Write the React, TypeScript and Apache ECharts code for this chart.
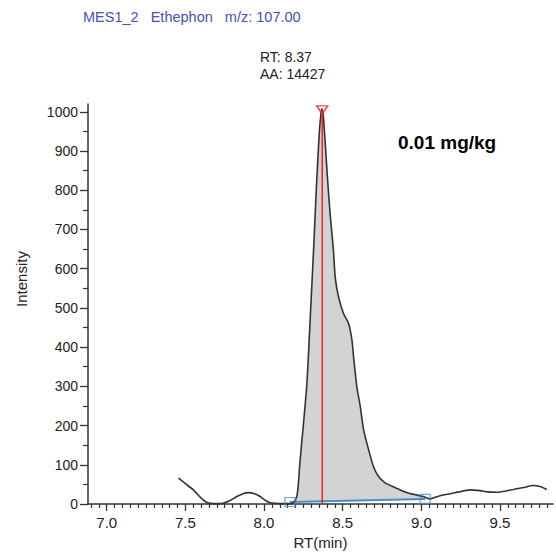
import React, { useEffect, useRef } from 'react';
import * as echarts from 'echarts';

// Chromatogram trace (RT in min, intensity)
const rtMin = [
  7.456, 7.5, 7.551, 7.6, 7.637, 7.68, 7.74, 7.79, 7.827, 7.87, 7.9, 7.94, 7.975, 8.01, 8.04, 8.1, 8.16,
  8.187, 8.208, 8.217, 8.228, 8.249, 8.273, 8.294, 8.315, 8.332, 8.351, 8.362, 8.37, 8.38, 8.402, 8.42,
  8.441, 8.452, 8.473, 8.505, 8.537, 8.559, 8.569, 8.59, 8.612, 8.633, 8.665, 8.696, 8.728, 8.77, 8.822,
  8.866, 8.928, 9.013, 9.055, 9.088, 9.138, 9.182, 9.24, 9.309, 9.373, 9.42, 9.479, 9.583, 9.65, 9.71,
  9.76, 9.797,
];
const intensity = [
  66, 52, 36, 15, 4, 1, 2, 10, 19, 27, 29, 26, 19, 9, 3, 1, 1,
  3, 19, 45, 105, 197, 309, 477, 648, 800, 945, 995, 1008, 975, 839, 740,
  648, 580, 529, 486, 461, 418, 376, 299, 248, 189, 138, 95, 70, 54, 44,
  36, 27, 19, 13, 17, 23, 26, 31, 36, 34, 31, 30, 37, 42, 47,
  44, 37,
];

// Integration baseline (start / end markers)
const baselineRt = [8.165, 9.025];
const baselineIntensity = [5, 13];

// Apex
const apexRt = 8.37;
const apexIntensity = 1005;

// Axis ticks
const yTickLabels = [0, 100, 200, 300, 400, 500, 600, 700, 800, 900, 1000];
const yMinorTicks = [50, 150, 250, 350, 450, 550, 650, 750, 850, 950];
const xTickLabels = [7.0, 7.5, 8.0, 8.5, 9.0, 9.5];

const titleText = 'MES1_2   Ethephon   m/z: 107.00';
const rtText = 'RT: 8.37';
const aaText = 'AA: 14427';
const concText = '0.01 mg/kg';

const X_MIN = 6.881;
const X_MAX = 9.837;
const Y_MIN = 0;
const Y_MAX = 1020;

const FONT = '"Liberation Sans", Arial, Helvetica, sans-serif';
const AXIS_COLOR = '#333';

export default function App() {
  const ref = useRef<HTMLDivElement>(null);

  useEffect(() => {
    if (!ref.current) return;
    const chart = echarts.init(ref.current, undefined, { renderer: 'svg' });

    const curve = rtMin.map((t, i) => [t, intensity[i]]);
    const peakPts: number[][] = [[baselineRt[0], baselineIntensity[0]]];
    rtMin.forEach((t, i) => {
      if (t > baselineRt[0] && t < baselineRt[1]) peakPts.push([t, intensity[i]]);
    });
    peakPts.push([baselineRt[1], baselineIntensity[1]]);

    const xMinor: number[] = [];
    for (let k = 138; k <= 196; k++) {
      const v = Math.round(k * 5) / 100;
      if (v > X_MIN && v < X_MAX && Math.abs((v * 2) - Math.round(v * 2)) > 1e-6) xMinor.push(v);
    }

    chart.setOption({
      animation: false,
      backgroundColor: '#fff',
      textStyle: { fontFamily: FONT },
      grid: { left: 88, right: 3, top: 104, bottom: 49, containLabel: false, outerBoundsMode: 'none' },
      xAxis: [
        {
          type: 'value',
          min: X_MIN,
          max: X_MAX,
          position: 'bottom',
          name: 'RT(min)',
          nameLocation: 'middle',
          nameGap: 28,
          nameTextStyle: { fontSize: 15, color: '#222', fontFamily: FONT },
          axisLine: { show: true, onZero: false, lineStyle: { color: AXIS_COLOR, width: 1.5 } },
          axisTick: { show: true, customValues: xTickLabels, length: 7, lineStyle: { color: AXIS_COLOR, width: 1.3 } },
          axisLabel: {
            customValues: xTickLabels,
            formatter: (v: number) => v.toFixed(1),
            fontSize: 15,
            color: '#222',
            margin: 11,
            fontFamily: FONT,
          },
          splitLine: { show: false },
        },
        {
          type: 'value',
          min: X_MIN,
          max: X_MAX,
          position: 'bottom',
          offset: 0,
          axisLine: { show: false, onZero: false },
          axisTick: { show: true, customValues: xMinor, length: 4, lineStyle: { color: AXIS_COLOR, width: 1.2 } },
          axisLabel: { show: false },
          splitLine: { show: false },
        },
      ],
      yAxis: [
        {
          type: 'value',
          min: Y_MIN,
          max: Y_MAX,
          position: 'left',
          axisLine: { show: true, onZero: false, lineStyle: { color: AXIS_COLOR, width: 1.5 } },
          axisTick: { show: true, customValues: yTickLabels, length: 8, lineStyle: { color: AXIS_COLOR, width: 1.3 } },
          axisLabel: {
            customValues: yTickLabels,
            formatter: (v: number) => String(v),
            fontSize: 14,
            color: '#222',
            margin: 10,
            fontFamily: FONT,
          },
          splitLine: { show: false },
        },
        {
          type: 'value',
          min: Y_MIN,
          max: Y_MAX,
          position: 'left',
          offset: 0,
          axisLine: { show: false, onZero: false },
          axisTick: { show: true, customValues: yMinorTicks, length: 5, lineStyle: { color: AXIS_COLOR, width: 1.2 } },
          axisLabel: { show: false },
          splitLine: { show: false },
        },
      ],
      graphic: [
        { type: 'text', x: 83, y: 17, style: { text: titleText, fill: '#4653b3', font: `14.5px ${FONT}`, verticalAlign: 'middle' } },
        { type: 'text', x: 260, y: 57, style: { text: rtText, fill: '#222', font: `14px ${FONT}`, verticalAlign: 'middle' } },
        { type: 'text', x: 260, y: 74, style: { text: aaText, fill: '#222', font: `14px ${FONT}`, verticalAlign: 'middle' } },
        { type: 'text', x: 398, y: 142, style: { text: concText, fill: '#000', font: `bold 19px ${FONT}`, verticalAlign: 'middle' } },
        {
          type: 'text', x: 21, y: 279, rotation: Math.PI / 2,
          style: { text: 'Intensity', fill: '#222', font: `15px ${FONT}`, align: 'center', verticalAlign: 'middle' },
        },
      ],
      series: [
        {
          type: 'custom',
          xAxisIndex: 0,
          yAxisIndex: 0,
          z: 1,
          silent: true,
          data: [[apexRt, apexIntensity]],
          renderItem: (_params: any, api: any) => ({
            type: 'polygon',
            shape: { points: peakPts.map((p) => api.coord(p)) },
            style: { fill: '#d3d3d3', stroke: 'none' },
          }),
        },
        {
          type: 'line',
          xAxisIndex: 0,
          yAxisIndex: 0,
          z: 2,
          data: baselineRt.map((t, i) => [t, baselineIntensity[i]]),
          symbol: 'none',
          lineStyle: { color: '#4a8bcb', width: 2 },
        },
        {
          type: 'line',
          xAxisIndex: 0,
          yAxisIndex: 0,
          z: 3,
          data: curve,
          smooth: 0.2,
          symbol: 'none',
          clip: false,
          lineStyle: { color: '#333', width: 1.6 },
        },
        {
          type: 'line',
          xAxisIndex: 0,
          yAxisIndex: 0,
          z: 4,
          data: [[apexRt, 0], [apexRt, apexIntensity]],
          symbol: 'none',
          lineStyle: { color: '#f02020', width: 1.5 },
        },
        {
          type: 'scatter',
          xAxisIndex: 0,
          yAxisIndex: 0,
          z: 5,
          data: baselineRt.map((t, i) => [t, baselineIntensity[i]]),
          symbol: 'rect',
          symbolSize: [10, 9],
          clip: false,
          itemStyle: { color: 'rgba(0,0,0,0)', borderColor: '#4a8fd0', borderWidth: 1.2 },
        },
        {
          type: 'scatter',
          xAxisIndex: 0,
          yAxisIndex: 0,
          z: 6,
          data: [[apexRt, apexIntensity]],
          symbol: 'triangle',
          symbolRotate: 180,
          symbolSize: [11, 8],
          clip: false,
          itemStyle: { color: 'rgba(0,0,0,0)', borderColor: '#f02020', borderWidth: 1.5 },
        },
      ],
    });

    return () => chart.dispose();
  }, []);

  return <div ref={ref} style={{ position: 'fixed', left: 0, top: 0, width: 556, height: 553 }} />;
}
